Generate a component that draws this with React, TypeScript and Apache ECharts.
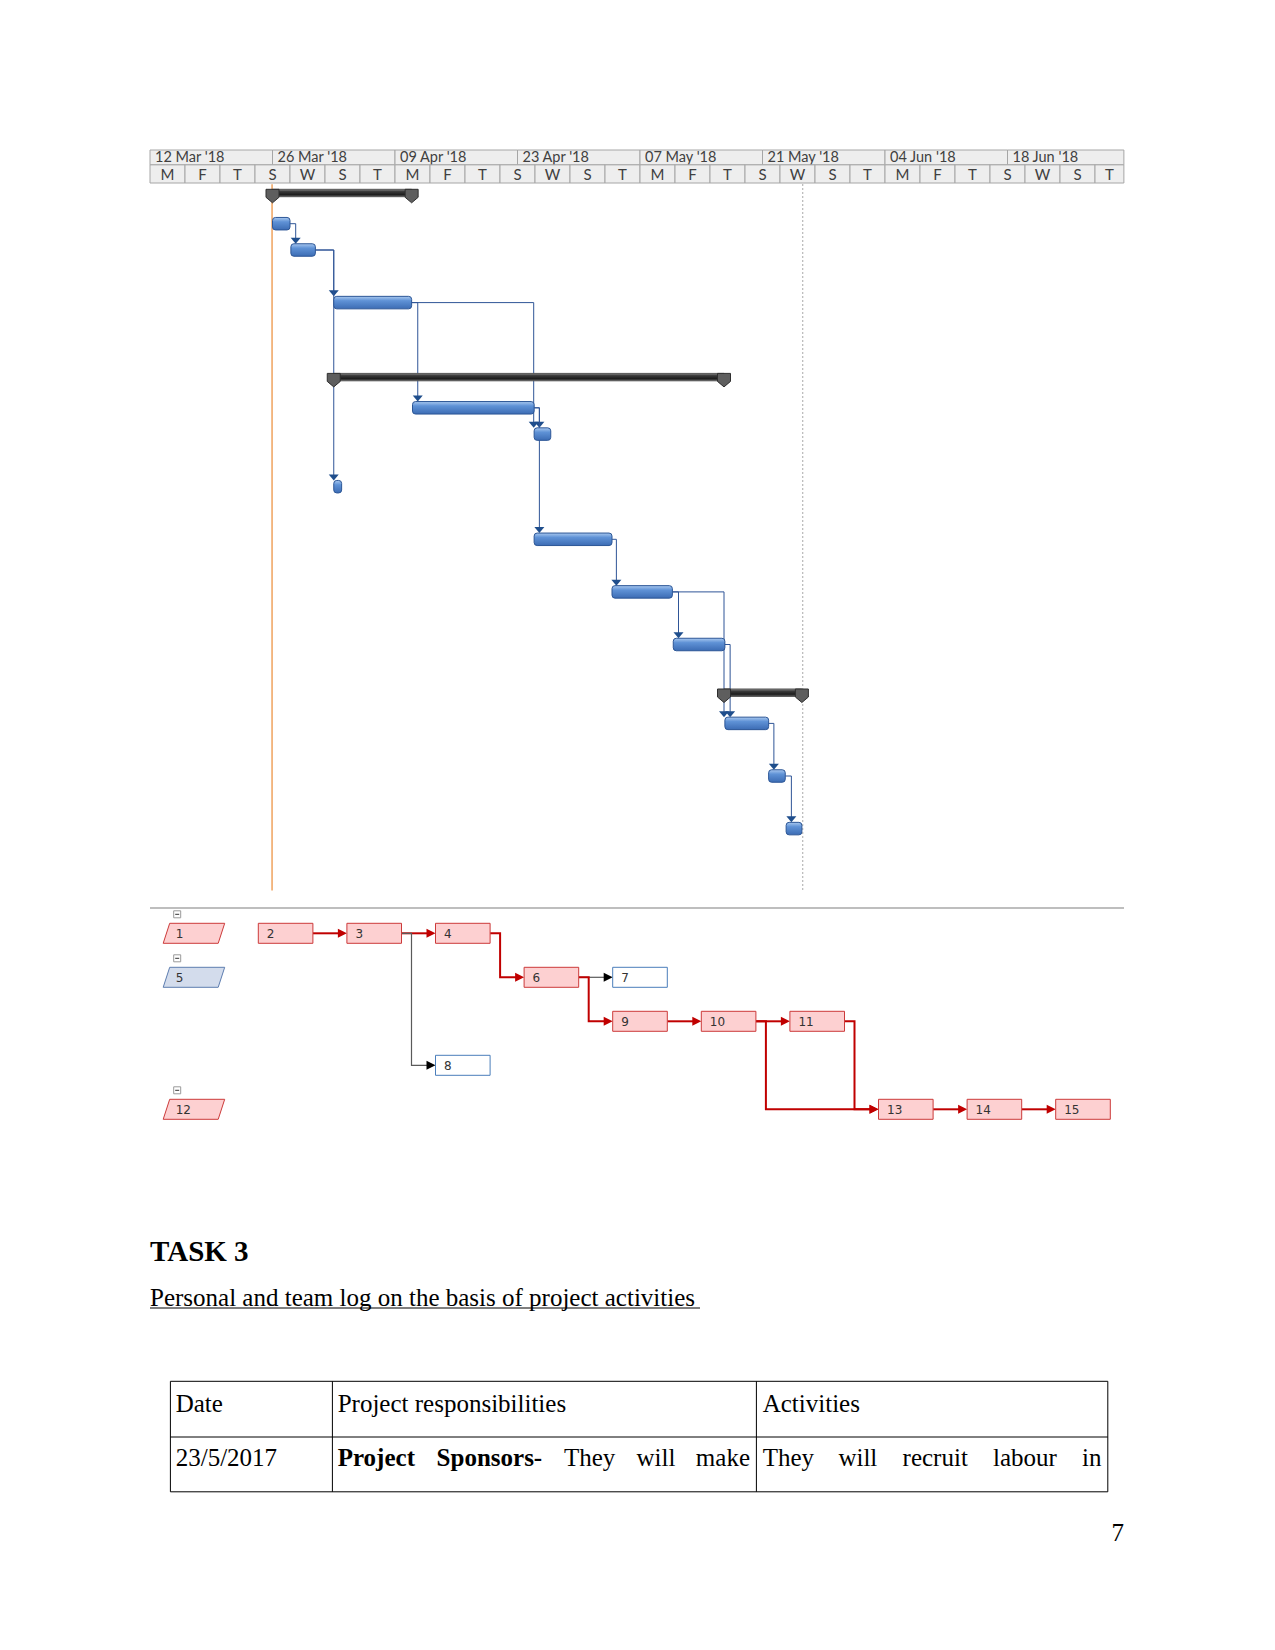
import React, { useEffect, useRef } from "react";
import * as echarts from "echarts";

// ---------- Timescale header ----------
const weekLabels = ["12 Mar '18", "26 Mar '18", "09 Apr '18", "23 Apr '18", "07 May '18", "21 May '18", "04 Jun '18", "18 Jun '18"];
const dayLetters = [
  "M", "F", "T", "S", "W", "S", "T",
  "M", "F", "T", "S", "W", "S", "T",
  "M", "F", "T", "S", "W", "S", "T",
  "M", "F", "T", "S", "W", "S", "T",
];
const DAYS_PER_WEEK_CELL = 14;
const DAYS_PER_DAY_CELL = 4;
const TOTAL_DAYS = 112;
const HEADER_END_DAY = 111.3;

// ---------- Gantt tasks (days from Mon 12 Mar '18) ----------
const taskRows = [0, 1, 2, 4, 7, 8, 9, 11, 13, 15, 17, 19, 20, 22, 24];
const taskStarts = [14, 14, 16.1, 21, 21, 30, 43.9, 21, 43.9, 52.8, 59.8, 65.6, 65.7, 70.7, 72.7];
const taskEnds = [29.9, 16, 18.9, 29.9, 65.6, 43.9, 45.8, 21.9, 52.8, 59.7, 65.7, 74.5, 70.7, 72.6, 74.5];
const taskKinds = ["summary", "task", "task", "task", "summary", "task", "task", "task", "task", "task", "task", "summary", "task", "task", "task"];

// ---------- Gantt dependency links ----------
const linkFromRows = [1, 2, 2, 4, 4, 8, 8, 13, 15, 15, 17, 20, 22];
const linkFromDays = [16, 18.9, 18.9, 29.9, 29.9, 43.9, 43.9, 52.8, 59.7, 59.7, 65.7, 70.7, 72.6];
const linkTurnDays = [16.65, 21.0, 21.0, 30.6, 43.85, 44.5, 44.5, 53.3, 60.4, 65.6, 66.3, 71.3, 73.3];
const linkToRows = [2, 4, 11, 8, 9, 9, 13, 15, 17, 20, 20, 22, 24];

const todayDay = 13.95;
const statusDay = 74.6;

// ---------- Network diagram ----------
const nodeIds = [1, 2, 3, 4, 5, 6, 7, 8, 9, 10, 11, 12, 13, 14, 15];
const nodeCols = [0, 1, 2, 3, 0, 4, 5, 3, 5, 6, 7, 0, 8, 9, 10];
const nodeRows = [0, 0, 0, 0, 1, 1, 1, 3, 2, 2, 2, 4, 4, 4, 4];
const nodeKinds = ["sumCrit", "crit", "crit", "crit", "sumNorm", "crit", "norm", "norm", "crit", "crit", "crit", "sumCrit", "crit", "crit", "crit"];

const netFrom = [2, 3, 3, 4, 6, 6, 9, 10, 10, 11, 13, 14];
const netTo = [3, 4, 8, 6, 7, 9, 10, 11, 13, 13, 14, 15];
const netCritical = [1, 1, 0, 1, 0, 1, 1, 1, 1, 1, 1, 1];

// ---------- Text ----------
const headingText = "TASK 3";
const subheadingText = "Personal and team log on the basis of project activities ";
const tableHeaders = ["Date", "Project responsibilities", "Activities"];
const tableDate = "23/5/2017";
const pageNumber = "7";

const BAR_H = 12.5;
const NODE_W = 54.6;
const NODE_H = 20;
const SERIF = '"Liberation Serif", "Times New Roman", serif';
const WEEK_FONT = '14.5px Lato, "Open Sans", sans-serif';
const DAY_FONT = '15px Lato, "Open Sans", sans-serif';

function buildOption() {
  const barFill = new echarts.graphic.LinearGradient(0, 0, 0, 1, [
    { offset: 0, color: "#a9c8ef" },
    { offset: 0.35, color: "#5f92d6" },
    { offset: 1, color: "#3c6cb4" },
  ]);
  const sumFill = new echarts.graphic.LinearGradient(0, 0, 0, 1, [
    { offset: 0, color: "#8a8a8a" },
    { offset: 0.3, color: "#3a3a3a" },
    { offset: 0.7, color: "#1e1e1e" },
    { offset: 1, color: "#5a5a5a" },
  ]);

  const ganttData = taskRows.map((r, i) => [r, taskStarts[i], taskEnds[i], taskKinds[i] === "summary" ? 1 : 0]);
  const linkData = linkFromRows.map((r, i) => [r, linkFromDays[i], linkTurnDays[i], linkToRows[i]]);
  const weekData = weekLabels.map((_, i) => [i * DAYS_PER_WEEK_CELL, i]);
  const dayData = dayLetters.map((_, i) => [i * DAYS_PER_DAY_CELL, i]);
  const nodeData = nodeIds.map((_, i) => [nodeCols[i], nodeRows[i], i]);
  const netLinkData = netFrom.map((f, i) => {
    const fi = nodeIds.indexOf(f);
    const ti = nodeIds.indexOf(netTo[i]);
    return [nodeCols[fi], nodeRows[fi], nodeCols[ti], nodeRows[ti], netCritical[i]];
  });

  const pentagon = (x: number, t: number) => [
    [x - 6.5, t],
    [x + 6.5, t],
    [x + 6.5, t + 8],
    [x, t + 13.5],
    [x - 6.5, t + 8],
  ];

  const series: any[] = [
    // header: week cells
    {
      type: "custom",
      xAxisIndex: 1,
      yAxisIndex: 1,
      data: weekData,
      renderItem: (params: any, api: any) => {
        const s = api.value(0);
        const idx = api.value(1);
        const [x1, y1] = api.coord([s, 0]);
        const [x2, y2] = api.coord([Math.min(s + DAYS_PER_WEEK_CELL, HEADER_END_DAY), 0.45]);
        return {
          type: "group",
          children: [
            { type: "rect", shape: { x: x1, y: y1, width: x2 - x1, height: y2 - y1 }, style: { fill: "#eeeeee", stroke: "#a6a6a6", lineWidth: 1 } },
            { type: "text", x: x1 + 5, y: (y1 + y2) / 2 - 0.5, style: { text: weekLabels[idx], font: WEEK_FONT, fill: "#404040", verticalAlign: "middle" } },
          ],
        };
      },
    },
    // header: day cells
    {
      type: "custom",
      xAxisIndex: 1,
      yAxisIndex: 1,
      data: dayData,
      renderItem: (params: any, api: any) => {
        const s = api.value(0);
        const idx = api.value(1);
        const [x1, y1] = api.coord([s, 0.45]);
        const [x2, y2] = api.coord([Math.min(s + DAYS_PER_DAY_CELL, HEADER_END_DAY), 1]);
        return {
          type: "group",
          children: [
            { type: "rect", shape: { x: x1, y: y1, width: x2 - x1, height: y2 - y1 }, style: { fill: "#eeeeee", stroke: "#a6a6a6", lineWidth: 1 } },
            { type: "text", x: (x1 + x2) / 2, y: (y1 + y2) / 2 + 0.5, style: { text: dayLetters[idx], font: DAY_FONT, fill: "#404040", align: "center", verticalAlign: "middle" } },
          ],
        };
      },
    },
    // today + status lines
    {
      type: "custom",
      xAxisIndex: 0,
      yAxisIndex: 0,
      data: [[todayDay, 0], [statusDay, 1]],
      renderItem: (params: any, api: any) => {
        const x = api.value(0);
        const kind = api.value(1);
        const [px, py1] = api.coord([x, -0.5]);
        const [, py2] = api.coord([x, 26.35]);
        return {
          type: "line",
          shape: { x1: px, y1: py1, x2: px, y2: py2 },
          style: kind === 0 ? { stroke: "#f0a868", lineWidth: 1.6 } : { stroke: "#8c8c8c", lineWidth: 1, lineDash: [1.5, 2.5] },
        };
      },
    },
    // dependency links
    {
      type: "custom",
      xAxisIndex: 0,
      yAxisIndex: 0,
      data: linkData,
      renderItem: (params: any, api: any) => {
        const fromRow = api.value(0);
        const fromDay = api.value(1);
        const turnDay = api.value(2);
        const toRow = api.value(3);
        const [xa, ya] = api.coord([fromDay, fromRow]);
        const [xt] = api.coord([turnDay, fromRow]);
        const [, yb] = api.coord([turnDay, toRow]);
        const tipY = yb - BAR_H / 2;
        return {
          type: "group",
          children: [
            { type: "polyline", shape: { points: [[xa, ya], [xt, ya], [xt, tipY - 5]] }, style: { stroke: "#2f5597", lineWidth: 1, fill: "none" } },
            { type: "polygon", shape: { points: [[xt - 5, tipY - 6], [xt + 5, tipY - 6], [xt, tipY]] }, style: { fill: "#1f4e8c" } },
          ],
        };
      },
    },
    // gantt bars
    {
      type: "custom",
      xAxisIndex: 0,
      yAxisIndex: 0,
      data: ganttData,
      renderItem: (params: any, api: any) => {
        const row = api.value(0);
        const s = api.value(1);
        const e = api.value(2);
        const kind = api.value(3);
        const [x1, yc] = api.coord([s, row]);
        const [x2] = api.coord([e, row]);
        if (kind === 0) {
          return {
            type: "rect",
            shape: { x: x1, y: yc - BAR_H / 2, width: Math.max(x2 - x1, 3), height: BAR_H, r: 3 },
            style: { fill: barFill, stroke: "#2c5696", lineWidth: 1 },
          };
        }
        const t = yc - 8.1;
        return {
          type: "group",
          children: [
            { type: "rect", shape: { x: x1, y: t, width: x2 - x1, height: 7.4 }, style: { fill: sumFill, stroke: "#555555", lineWidth: 1 } },
            { type: "polygon", shape: { points: pentagon(x1, t) }, style: { fill: "#5e5e5e", stroke: "#2e2e2e", lineWidth: 1 } },
            { type: "polygon", shape: { points: pentagon(x2, t) }, style: { fill: "#5e5e5e", stroke: "#2e2e2e", lineWidth: 1 } },
          ],
        };
      },
    },
    // network links
    {
      type: "custom",
      xAxisIndex: 2,
      yAxisIndex: 2,
      data: netLinkData,
      renderItem: (params: any, api: any) => {
        const [fx, fy] = api.coord([api.value(0), api.value(1)]);
        const [tx, ty] = api.coord([api.value(2), api.value(3)]);
        const crit = api.value(4) === 1;
        const sx = fx + NODE_W;
        const sy = fy + NODE_H / 2;
        const ex = tx;
        const ey = ty + NODE_H / 2;
        const pts = Math.abs(sy - ey) < 0.5
          ? [[sx, sy], [ex - 6, ey]]
          : [[sx, sy], [sx + 10, sy], [sx + 10, ey], [ex - 6, ey]];
        const color = crit ? "#c00000" : "#5a5a5a";
        return {
          type: "group",
          children: [
            { type: "polyline", shape: { points: pts }, style: { stroke: color, lineWidth: crit ? 2 : 1.2, fill: "none" } },
            { type: "polygon", shape: { points: [[ex - 9, ey - 4.5], [ex, ey], [ex - 9, ey + 4.5]] }, style: { fill: crit ? "#c00000" : "#000000" } },
          ],
        };
      },
    },
    // network nodes
    {
      type: "custom",
      xAxisIndex: 2,
      yAxisIndex: 2,
      data: nodeData,
      renderItem: (params: any, api: any) => {
        const [x0, y0] = api.coord([api.value(0), api.value(1)]);
        const idx = api.value(2);
        const kind = nodeKinds[idx];
        const children: any[] = [];
        const label = String(nodeIds[idx]);
        if (kind === "sumCrit" || kind === "sumNorm") {
          const crit = kind === "sumCrit";
          children.push({
            type: "polygon",
            shape: { points: [[x0, y0], [x0 + 55, y0], [x0 + 48.5, y0 + NODE_H], [x0 - 6.5, y0 + NODE_H]] },
            style: { fill: crit ? "#fdd0d1" : "#d3dcec", stroke: crit ? "#cc3a3a" : "#5d7db0", lineWidth: 1 },
          });
          children.push({ type: "rect", shape: { x: x0 + 4, y: y0 - 12.5, width: 7, height: 7 }, style: { fill: "#fff", stroke: "#9a9a9a", lineWidth: 1 } });
          children.push({ type: "line", shape: { x1: x0 + 5.5, y1: y0 - 9, x2: x0 + 9.5, y2: y0 - 9 }, style: { stroke: "#333", lineWidth: 1 } });
          children.push({ type: "text", x: x0 + 6, y: y0 + NODE_H / 2 + 0.5, style: { text: label, font: '12px "DejaVu Sans", sans-serif', fill: "#333", verticalAlign: "middle" } });
        } else {
          const crit = kind === "crit";
          children.push({
            type: "rect",
            shape: { x: x0, y: y0, width: NODE_W, height: NODE_H },
            style: { fill: crit ? "#fdd0d1" : "#ffffff", stroke: crit ? "#cc3a3a" : "#4a7ebb", lineWidth: 1 },
          });
          children.push({ type: "text", x: x0 + 8.5, y: y0 + NODE_H / 2 + 0.5, style: { text: label, font: '12px "DejaVu Sans", sans-serif', fill: "#333", verticalAlign: "middle" } });
        }
        return { type: "group", children };
      },
    },
  ];

  const serifText = (text: string, x: number, y: number, opts: any = {}) => ({
    type: "text",
    x,
    y,
    style: { text, font: `${opts.bold ? "bold " : ""}${opts.size || 25}px ${SERIF}`, fill: "#000", verticalAlign: "middle", align: opts.align || "left" },
  });

  const graphic: any[] = [
    { type: "line", shape: { x1: 150, y1: 908, x2: 1124, y2: 908 }, style: { stroke: "#a8a8a8", lineWidth: 1.5 } },
    serifText(headingText, 150, 1251, { bold: true, size: 29 }),
    serifText(subheadingText, 150, 1297),
    { type: "line", shape: { x1: 150, y1: 1308, x2: 700, y2: 1308 }, style: { stroke: "#000", lineWidth: 1.2 } },
    // table
    { type: "rect", shape: { x: 170.4, y: 1381.3, width: 937.4, height: 110.5 }, style: { fill: "none", stroke: "#000", lineWidth: 1 } },
    { type: "line", shape: { x1: 170.4, y1: 1437, x2: 1107.8, y2: 1437 }, style: { stroke: "#000", lineWidth: 1 } },
    { type: "line", shape: { x1: 332.4, y1: 1381.3, x2: 332.4, y2: 1491.8 }, style: { stroke: "#000", lineWidth: 1 } },
    { type: "line", shape: { x1: 756.4, y1: 1381.3, x2: 756.4, y2: 1491.8 }, style: { stroke: "#000", lineWidth: 1 } },
    serifText(tableHeaders[0], 175.7, 1403),
    serifText(tableHeaders[1], 337.7, 1403),
    serifText(tableHeaders[2], 762.7, 1403),
    serifText(tableDate, 175.7, 1457),
    serifText("Project", 337.7, 1457, { bold: true }),
    serifText("Sponsors-", 436.6, 1457, { bold: true }),
    serifText("They", 563.9, 1457),
    serifText("will", 636.5, 1457),
    serifText("make", 750, 1457, { align: "right" }),
    serifText("They", 762.7, 1457),
    serifText("will", 838.4, 1457),
    serifText("recruit", 902.6, 1457),
    serifText("labour", 993, 1457),
    serifText("in", 1101.4, 1457, { align: "right" }),
    serifText(pageNumber, 1124, 1532, { align: "right" }),
  ];

  return {
    animation: false,
    backgroundColor: "#ffffff",
    grid: [
      { left: 150, top: 184.25, width: 980, height: 710.1 },
      { left: 150, top: 150, width: 980, height: 33 },
      { left: 169.7, top: 923.3, width: 974.6, height: 220 },
    ],
    xAxis: [
      { gridIndex: 0, type: "value", min: 0, max: TOTAL_DAYS, show: false },
      { gridIndex: 1, type: "value", min: 0, max: TOTAL_DAYS, show: false },
      { gridIndex: 2, type: "value", min: 0, max: 11, show: false },
    ],
    yAxis: [
      { gridIndex: 0, type: "value", min: -0.5, max: 26.5, inverse: true, show: false },
      { gridIndex: 1, type: "value", min: 0, max: 1, inverse: true, show: false },
      { gridIndex: 2, type: "value", min: 0, max: 5, inverse: true, show: false },
    ],
    series,
    graphic,
  };
}

export default function App() {
  const ref = useRef<HTMLDivElement>(null);
  useEffect(() => {
    if (!ref.current) return;
    const chart = echarts.init(ref.current, undefined, { renderer: "svg" });
    chart.setOption(buildOption() as any);
    return () => chart.dispose();
  }, []);
  return (
    <div
      ref={ref}
      style={{ position: "absolute", left: 0, top: 0, width: 1275, height: 1650, background: "#ffffff" }}
    />
  );
}
